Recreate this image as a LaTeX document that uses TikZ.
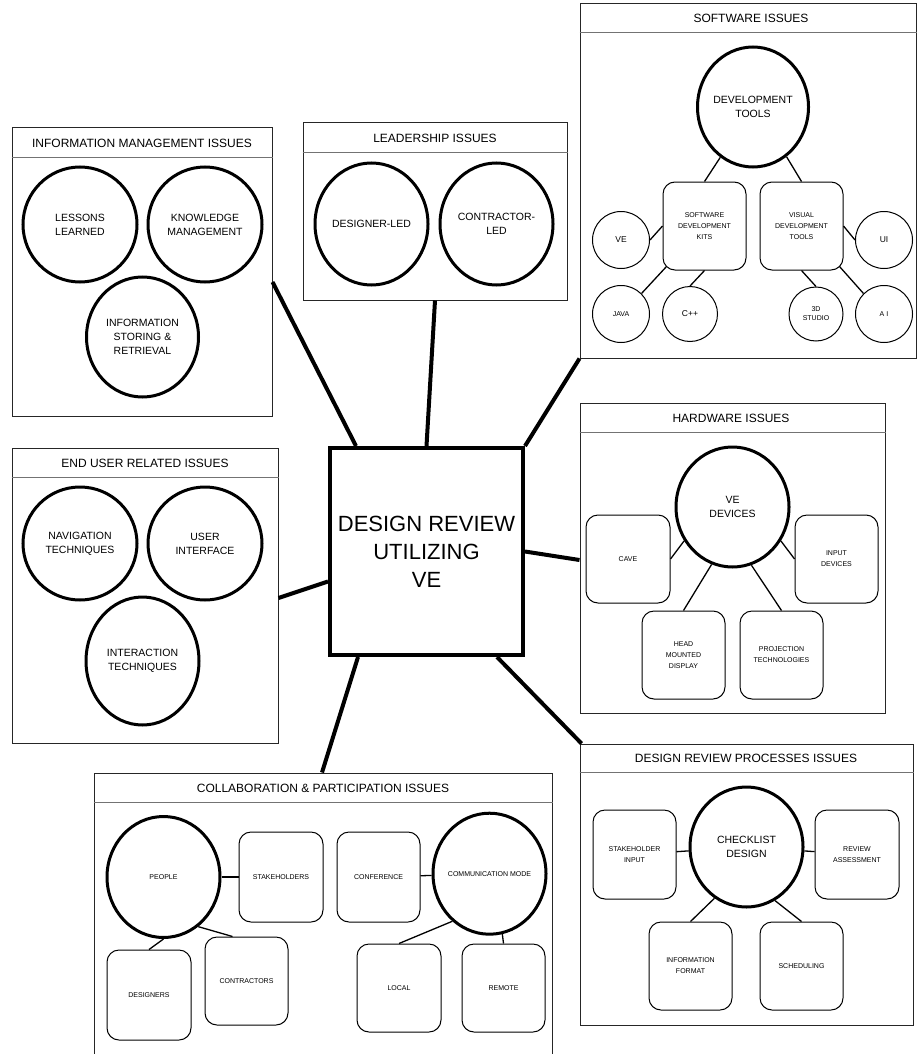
\documentclass[tikz,border=0pt]{standalone}
\usepackage{fontspec}
\setmainfont{Liberation Sans}
\usetikzlibrary{shapes.geometric}
\begin{document}
\begin{tikzpicture}[x=1pt,y=-1pt,
  panel/.style={draw=black!85, line width=1pt, inner sep=0pt},
  divider/.style={draw=black!55, line width=1pt},
  ptitle/.style={font=\fontsize{12}{14}\selectfont, inner sep=0pt},
  bigc/.style={ellipse, draw, line width=3pt, inner sep=0pt, minimum width=113pt, minimum height=120pt},
  clab/.style={align=center, inner sep=0pt, font=\fontsize{10.5}{14}\selectfont},
  smallc/.style={circle, draw, line width=1pt, inner sep=0pt, minimum size=57pt, align=center, font=\fontsize{8.5}{10}\selectfont},
  rbox/.style={rectangle, rounded corners=12pt, draw, line width=1pt, inner sep=0pt, minimum width=83pt, minimum height=88pt, align=center, font=\fontsize{7}{11}\selectfont},
  link/.style={line width=1.3pt},
  hub/.style={line width=4pt},
]
\useasboundingbox (0,0) rectangle (918,1054);

% ---------- central node ----------
\node[draw, line width=4pt, fill=white, inner sep=0pt, minimum width=193pt, minimum height=207pt,
      align=center, font=\fontsize{22}{28}\selectfont] (main) at (426.5,551.5) {DESIGN REVIEW\\UTILIZING\\VE};

% ---------- INFORMATION MANAGEMENT ----------
\node[panel, minimum width=260pt, minimum height=288pt] (infoP) at (142,272) {};
\draw[divider] ([yshift=-30pt]infoP.north west) -- ([yshift=-30pt]infoP.north east);
\node[ptitle] (infoT) at (142,143) {INFORMATION MANAGEMENT ISSUES};
\node[bigc, minimum width=114pt, minimum height=115pt, label={[clab]center:LESSONS\\LEARNED}] (ll) at (80,224.5) {};
\node[bigc, minimum width=114pt, minimum height=115pt, label={[clab]center:KNOWLEDGE\\MANAGEMENT}] (km) at (205,224.5) {};
\node[bigc, minimum width=112pt, minimum height=120pt, label={[clab]center:INFORMATION\\STORING \&\\RETRIEVAL}] (isr) at (142.5,337) {};

% ---------- LEADERSHIP ----------
\node[panel, minimum width=264pt, minimum height=177pt] (leadP) at (435,211.5) {};
\draw[divider] ([yshift=-30pt]leadP.north west) -- ([yshift=-30pt]leadP.north east);
\node[ptitle] (leadT) at (435,138) {LEADERSHIP ISSUES};
\node[bigc, minimum height=122pt, label={[clab]center:DESIGNER-LED}] (dl) at (371.5,224) {};
\node[bigc, minimum height=122pt, label={[clab]center:CONTRACTOR-\\LED}] (cl) at (496.5,224) {};

% ---------- SOFTWARE ----------
\node[panel, minimum width=336pt, minimum height=354pt] (softP) at (748,181) {};
\draw[divider] ([yshift=-29pt]softP.north west) -- ([yshift=-29pt]softP.north east);
\node[ptitle] (softT) at (751,18) {SOFTWARE ISSUES};
\node[bigc, minimum width=111pt, minimum height=120pt, label={[clab]center:DEVELOPMENT\\TOOLS}] (dt) at (753,107) {};
\node[rbox] (sdk) at (704.5,226) {SOFTWARE\\DEVELOPMENT\\KITS};
\node[rbox] (gdt) at (801.5,226) {VISUAL\\DEVELOPMENT\\TOOLS};
\node[smallc] (ve) at (621,240) {VE};
\node[smallc] (ui) at (884,240) {UI};
\node[smallc, font=\fontsize{7}{9}\selectfont] (java) at (621,314) {JAVA};
\node[smallc, minimum size=55pt] (cpp) at (690,314) {C++};
\node[smallc, minimum size=54pt, font=\fontsize{7}{9}\selectfont] (td) at (816,314) {3D\\STUDIO};
\node[smallc, font=\fontsize{7}{9}\selectfont] (ai) at (884,314) {A I};
\draw[link] (dt.237) -- (sdk.north);
\draw[link] (dt.-56) -- (gdt.north);
\draw[link] (ve.east) -- (sdk.west);
\draw[link] (gdt.east) -- (ui.west);
\draw[link] ([xshift=4pt,yshift=4pt]sdk.south west) -- (java.45);
\draw[link] (sdk.south) -- (cpp.north);
\draw[link] (gdt.south) -- (td.north);
\draw[link] ([xshift=-4pt,yshift=4pt]gdt.south east) -- (ai.135);

% ---------- END USER ----------
\node[panel, minimum width=266pt, minimum height=295pt] (userP) at (145,595.5) {};
\draw[divider] ([yshift=-30pt]userP.north west) -- ([yshift=-30pt]userP.north east);
\node[ptitle] (userT) at (145,463) {END USER RELATED ISSUES};
\node[bigc, minimum width=114pt, minimum height=113pt, label={[clab]center:NAVIGATION\\TECHNIQUES}] (nav) at (80,543.5) {};
\node[bigc, minimum width=114pt, minimum height=113pt, label={[clab]center:USER\\INTERFACE}] (uif) at (205,543.5) {};
\node[bigc, minimum width=113pt, minimum height=128pt, label={[clab]center:INTERACTION\\TECHNIQUES}] (inter) at (142.5,661) {};

% ---------- HARDWARE ----------
\node[panel, minimum width=305pt, minimum height=310pt] (hardP) at (732.5,558) {};
\draw[divider] ([yshift=-30pt]hardP.north west) -- ([yshift=-30pt]hardP.north east);
\node[ptitle] (hardT) at (731,418) {HARDWARE ISSUES};
\node[bigc, label={[clab]center:VE\\DEVICES}] (ved) at (732.5,507) {};
\node[rbox, minimum width=84pt] (cave) at (628,559) {CAVE};
\node[rbox] (inp) at (836.5,559) {INPUT\\DEVICES};
\node[rbox] (hmd) at (683.5,655) {HEAD\\MOUNTED\\DISPLAY};
\node[rbox] (proj) at (781.5,655) {PROJECTION\\TECHNOLOGIES};
\draw[link] (ved.215) -- (cave.east);
\draw[link] (ved.-35) -- (inp.west);
\draw[link] (ved.250) -- (hmd.north);
\draw[link] (ved.-72) -- (proj.north);

% ---------- DESIGN REVIEW PROCESSES ----------
\node[panel, minimum width=333pt, minimum height=281pt] (drpP) at (746.5,884.5) {};
\draw[divider] ([yshift=-29pt]drpP.north west) -- ([yshift=-29pt]drpP.north east);
\node[ptitle] (drpT) at (746,758) {DESIGN REVIEW PROCESSES ISSUES};
\node[bigc, label={[clab]center:CHECKLIST\\DESIGN}] (cd) at (746.5,847) {};
\node[rbox, minimum height=89pt] (sti) at (634.5,854.5) {STAKEHOLDER\\INPUT};
\node[rbox, minimum width=84pt, minimum height=89pt] (ra) at (857,854.5) {REVIEW\\ASSESSMENT};
\node[rbox] (inf) at (690.5,966) {INFORMATION\\FORMAT};
\node[rbox] (sch) at (801.5,966) {SCHEDULING};
\draw[link] (cd) -- (sti);
\draw[link] (cd) -- (ra);
\draw[link] (cd.238) -- (inf.north);
\draw[link] (cd.-62) -- (sch.north);

% ---------- COLLABORATION & PARTICIPATION ----------
\node[panel, minimum width=458pt, minimum height=289pt] (collP) at (323,917.5) {};
\draw[divider] ([yshift=-30pt]collP.north west) -- ([yshift=-30pt]collP.north east);
\node[ptitle] (collT) at (323,788) {COLLABORATION \& PARTICIPATION ISSUES};
\node[bigc, minimum height=121pt, label={[clab, font=\fontsize{7}{9}\selectfont]center:PEOPLE}] (ppl) at (163.5,877) {};
\node[rbox, minimum width=84pt, minimum height=90pt] (stk) at (281,877) {STAKEHOLDERS};
\node[rbox, minimum width=84pt, minimum height=90pt] (des) at (149,995) {DESIGNERS};
\node[rbox] (con) at (246.5,981) {CONTRACTORS};
\node[bigc, minimum height=121pt, label={[clab, font=\fontsize{7}{9}\selectfont]center:COMMUNICATION MODE}] (com) at (489.5,873.7) {};
\node[rbox, minimum height=90pt] (mtg) at (378.5,877) {CONFERENCE};
\node[rbox, minimum width=84pt] (loc) at (399,988) {LOCAL};
\node[rbox] (rem) at (503.5,988) {REMOTE};
\draw[link] (ppl) -- (stk);
\draw[link] (ppl.south) -- (des.north);
\draw[link] (ppl.-55) -- ([xshift=-14pt]con.north);
\draw[link] (mtg) -- (com);
\draw[link] (com.232) -- (loc.north);
\draw[link] (com.-78) -- (rem.north);

% ---------- hub connectors ----------
\draw[hub] ([xshift=28pt]main.north west) -- ([yshift=-10pt]infoP.east);
\draw[hub] (main.north) -- (leadP.south);
\draw[hub] (main.north east) -- (softP.south west);
\draw[hub] (main.east) -- ([yshift=-2pt]hardP.west);
\draw[hub] ([xshift=-28pt]main.south east) -- ([xshift=2pt]drpP.north west);
\draw[hub] ([xshift=30pt]main.south west) -- ([xshift=-1pt]collP.north);
\draw[hub] ([yshift=-30pt]main.west) -- ([yshift=-2.5pt]userP.east);
\end{tikzpicture}
\end{document}
